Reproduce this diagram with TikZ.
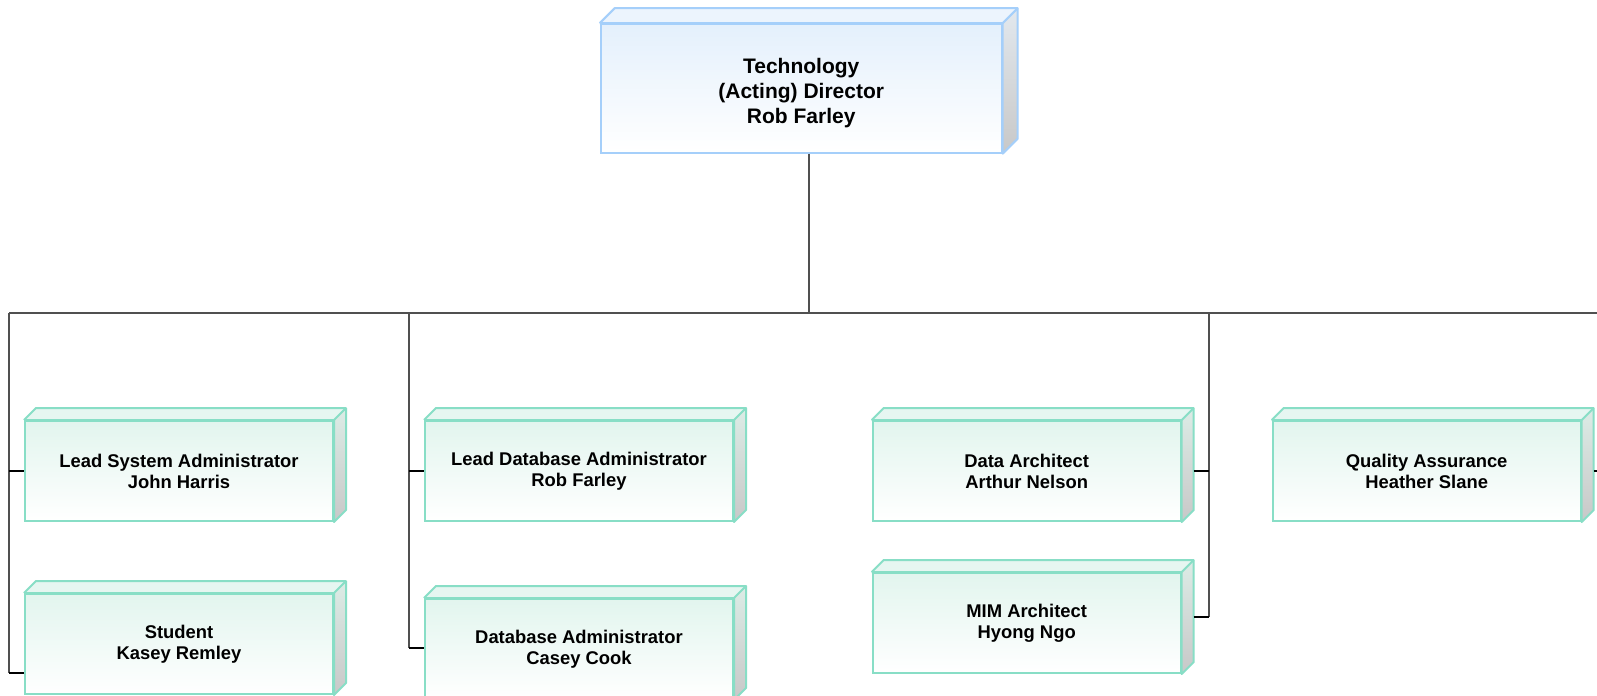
\documentclass[tikz,border=0pt]{standalone}
\usepackage{fontspec}
\setmainfont{Liberation Sans}
\usetikzlibrary{calc}
\definecolor{blueline}{RGB}{165,207,250}
\definecolor{bluefill}{RGB}{228,240,252}
\definecolor{bluetop}{RGB}{236,244,253}
\definecolor{blueside1}{RGB}{226,232,238}
\definecolor{blueside2}{RGB}{200,200,200}
\definecolor{greenline}{RGB}{136,222,198}
\definecolor{greenfill}{RGB}{226,245,238}
\definecolor{greentop}{RGB}{230,246,241}
\definecolor{greenside1}{RGB}{220,236,230}
\definecolor{greenside2}{RGB}{200,200,200}
\definecolor{connc}{RGB}{80,80,80}
\newcommand\boxfaces[3]{%
  \shade[top color=#3side1,bottom color=#3side2] (#1.north east) -- ++(#2,-#2) -- ($(#1.south east)+(#2,-#2)$) -- (#1.south east) -- cycle;
  \fill[#3top] (#1.north west) -- ++(#2,-#2) -- ($(#1.north east)+(#2,-#2)$) -- (#1.north east) -- cycle;
  \draw[#3line,line width=1pt,line join=round] (#1.north west) -- ++(#2,-#2) -- ($(#1.north east)+(#2,-#2)$) -- ($(#1.south east)+(#2,-#2)$) -- (#1.south east) -- (#1.north east) -- (#1.north west);
  \draw[#3line,line width=1pt] (#1.north east) -- ++(#2,-#2);
}
\tikzset{
  topbox/.style={draw=blueline,line width=1pt,top color=bluefill,bottom color=white,
    minimum width=200.5pt,minimum height=64.25pt,inner sep=0pt},
  toptext/.style={align=center,inner sep=0pt,font=\fontsize{10.5}{12.5}\selectfont\bfseries},
  greenbox/.style={draw=greenline,line width=1pt,top color=greenfill,bottom color=white,
    minimum width=154pt,minimum height=50pt,inner sep=0pt,align=center,
    font=\fontsize{9.2}{10.5}\selectfont\bfseries},
  conn/.style={draw=connc,line width=0.95pt},
  stub/.style={draw=black,line width=1pt}
}
\begin{document}
\begin{tikzpicture}[x=0.5pt,y=-0.5pt]
\useasboundingbox (0,0) rectangle (1597,696);
\clip (0,0) rectangle (1597,696);
\fill[white] (0,0) rectangle (1597,696);

% junction coordinates
\coordinate (bus) at (808.7,312.7);
\coordinate (busL) at (9,312.7);
\coordinate (busR) at (1620,312.7);
\coordinate (t1) at (9,312.7);
\coordinate (t2) at (409,312.7);
\coordinate (t3) at (1209,312.7);
\coordinate (t4) at (1605,312.7);
\coordinate (b1) at (9,672.7);
\coordinate (b2) at (409,648.3);
\coordinate (b3) at (1209,616.7);
\coordinate (b4) at (1605,472.7);

% boxes
\node[topbox] (top) at (801.2,88.4) {};
\boxfaces{top}{15}{blue}
\node[toptext] (toplabel) at ($(top.center)+(0,5)$) {Technology\\(Acting) Director\\Rob Farley};

\node[greenbox] (A) at (179,471) {Lead System Administrator\\John Harris};
\boxfaces{A}{12}{green}
\node[greenbox] (B) at (179,644) {Student\\Kasey Remley};
\boxfaces{B}{12}{green}
\node[greenbox] (C) at (579,471) {Lead Database Administrator\\Rob Farley};
\boxfaces{C}{12}{green}
\node[greenbox] (D) at (579,649) {Database Administrator\\Casey Cook};
\boxfaces{D}{12}{green}
\node[greenbox] (E) at (1026.7,471) {Data Architect\\Arthur Nelson};
\boxfaces{E}{12}{green}
\node[greenbox] (F) at (1026.7,623) {MIM Architect\\Hyong Ngo};
\boxfaces{F}{12}{green}
\node[greenbox] (G) at (1426.7,471) {Quality Assurance\\Heather Slane};
\boxfaces{G}{12}{green}

% lines
\draw[conn] (top.south -| bus) -- (bus);
\draw[conn] (busL) -- (busR);
\draw[conn] (t1) -- (b1);
\draw[conn] (t2) -- (b2);
\draw[conn] (t3) -- (b3);
\draw[conn] (t4) -- (b4);
\draw[stub] (t1 |- A.west) -- (A.west);
\draw[stub] (b1) -- (b1 -| B.west);
\draw[stub] (t2 |- C.west) -- (C.west);
\draw[stub] (b2) -- (b2 -| D.west);
\draw[stub] ($(E.east)+(12,0)$) -- (t3 |- E.east);
\draw[stub] ($(F.east |- b3)+(12,0)$) -- (b3);
\draw[stub] ($(G.east)+(12,0)$) -- (t4 |- G.east);
\end{tikzpicture}
\end{document}
